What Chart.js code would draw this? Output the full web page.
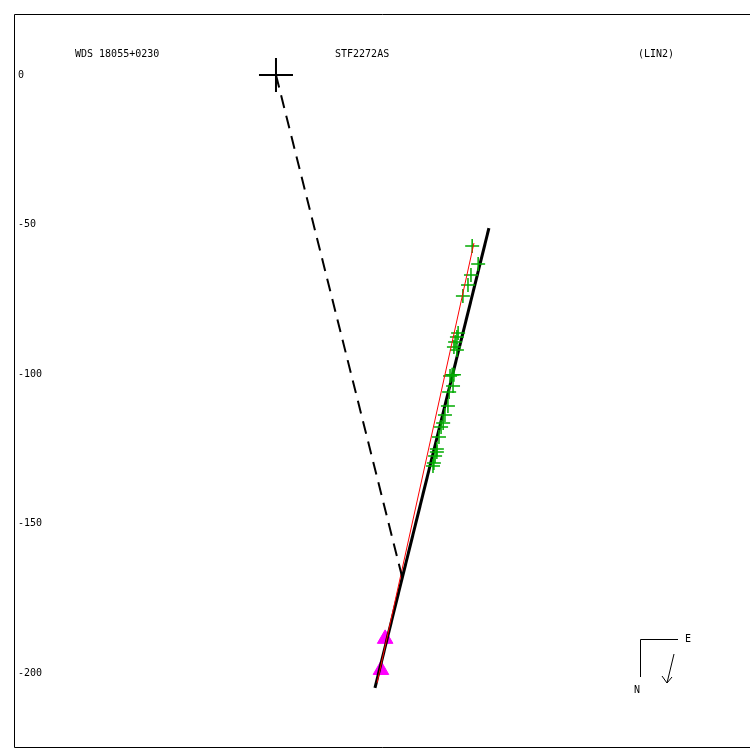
<!DOCTYPE html>
<html>
<head>
<meta charset="utf-8">
<script src="https://cdn.jsdelivr.net/npm/chart.js@4/dist/chart.umd.min.js"></script>
<style>
  html, body { margin: 0; padding: 0; background: #fff; overflow: hidden; }
  #wrap { width: 750px; height: 750px; }
</style>
</head>
<body>
<div id="wrap"><canvas id="orbit"></canvas></div>
<script>
// Observations (relative position, same units as the y axis)
const obsX = [65.6, 67.6, 65.2, 64.2, 62.5, 60.9, 60.5, 59.9, 59.5, 60.5, 58.9, 59.5, 58.2,
              59.2, 57.9, 57.5, 56.5, 55.9, 55.2, 54.5, 53.8, 53.8, 53.2, 52.8, 52.5];
const obsY = [-57.2, -63.2, -66.9, -70.2, -73.9, -86.3, -87.6, -89.3, -91.0, -92.0, -100.3, -100.3, -100.7,
              -104.0, -106.0, -110.7, -113.7, -116.4, -117.7, -121.1, -125.1, -126.1, -127.4, -129.8, -130.8];

// Other measures (triangles)
const otherX = [36.5, 35.1];
const otherY = [-188.6, -199.0];

// Primary star
const primaryX = [0];
const primaryY = [0];

// Linear elements (black) and fit through observations (red)
const linX = [33.1, 71.2];
const linY = [-205.0, -51.2];
const fitX = [33.8, 66.2];
const fitY = [-203.3, -56.2];

// Dashed line primary -> closest point
const dashX = [0, 42.1];
const dashY = [0, -167.6];

const yTicks = [0, -50, -100, -150, -200];
const titles = ['WDS 18055+0230', 'STF2272AS', '(LIN2)'];

const pts = (xs, ys) => xs.map((x, i) => ({ x: x, y: ys[i] }));
const mono = '"DejaVu Sans Mono", monospace';

const decor = {
    id: 'decor',
    beforeDatasetsDraw(chart) {
        const { ctx, chartArea: a } = chart;
        ctx.save();
        ctx.strokeStyle = '#000';
        ctx.lineWidth = 1;
        ctx.beginPath();
        ctx.moveTo(a.right + 5, a.top + 0.5);
        ctx.lineTo(a.left + 0.5, a.top + 0.5);
        ctx.lineTo(a.left + 0.5, a.bottom - 0.5);
        ctx.lineTo(a.right + 5, a.bottom - 0.5);
        ctx.stroke();

        // y tick labels, placed through the y scale
        const ys = chart.scales.y;
        ctx.fillStyle = '#000';
        ctx.font = '10px ' + mono;
        ctx.textBaseline = 'middle';
        ctx.textAlign = 'left';
        yTicks.forEach(v => ctx.fillText(String(v), a.left + 4, ys.getPixelForValue(v)));
        ctx.restore();
    },
    afterDatasetsDraw(chart) {
        const { ctx, chartArea: a } = chart;
        ctx.save();
        ctx.fillStyle = '#000';
        ctx.font = '10px ' + mono;
        ctx.textBaseline = 'middle';
        ctx.textAlign = 'left';
        ctx.fillText(titles[0], a.left + 61, a.top + 40);
        ctx.fillText(titles[1], a.left + 321, a.top + 40);
        ctx.fillText(titles[2], a.left + 624, a.top + 40);

        // compass
        const cx = a.left + 626, cy = a.top + 625;
        ctx.strokeStyle = '#000';
        ctx.lineWidth = 1;
        ctx.beginPath();
        ctx.moveTo(cx + 38, cy + 0.5);
        ctx.lineTo(cx + 0.5, cy + 0.5);
        ctx.lineTo(cx + 0.5, cy + 38);
        ctx.moveTo(cx + 34, cy + 15);
        ctx.lineTo(cx + 27, cy + 44);
        ctx.moveTo(cx + 22, cy + 37);
        ctx.lineTo(cx + 27, cy + 44);
        ctx.lineTo(cx + 32, cy + 38);
        ctx.stroke();
        ctx.textAlign = 'center';
        ctx.fillText('E', cx + 48, cy);
        ctx.fillText('N', cx - 3, cy + 51);
        ctx.restore();
    }
};

new Chart(document.getElementById('orbit'), {
    type: 'scatter',
    data: {
        datasets: [
            {
                label: 'dash',
                data: pts(dashX, dashY),
                showLine: true,
                borderColor: '#000',
                borderWidth: 2,
                borderDash: [13, 8],
                pointRadius: 0
            },
            {
                label: 'fit',
                data: pts(fitX, fitY),
                showLine: true,
                borderColor: '#ff0000',
                borderWidth: 1,
                pointRadius: 0
            },
            {
                label: 'obs',
                data: pts(obsX, obsY),
                pointStyle: 'cross',
                pointRadius: 7,
                borderColor: '#00aa00',
                borderWidth: 1.5
            },
            {
                label: 'lin',
                data: pts(linX, linY),
                showLine: true,
                borderColor: '#000',
                borderWidth: 3,
                pointRadius: 0
            },
            {
                label: 'other',
                data: pts(otherX, otherY),
                pointStyle: 'triangle',
                pointRadius: 9,
                backgroundColor: '#ff00ff',
                borderColor: '#ff00ff',
                borderWidth: 1
            },
            {
                label: 'primary',
                data: pts(primaryX, primaryY),
                pointStyle: 'cross',
                pointRadius: 17,
                borderColor: '#000',
                borderWidth: 2
            }
        ]
    },
    options: {
        responsive: true,
        maintainAspectRatio: false,
        animation: false,
        layout: { autoPadding: false, padding: { left: 14, top: 14, right: 0, bottom: 2 } },
        plugins: {
            legend: { display: false },
            tooltip: { enabled: false }
        },
        scales: {
            x: { display: false, min: -87.6, max: 158.5 },
            y: { display: false, min: -225.1, max: 20.4 }
        }
    },
    plugins: [decor]
});
</script>
</body>
</html>
